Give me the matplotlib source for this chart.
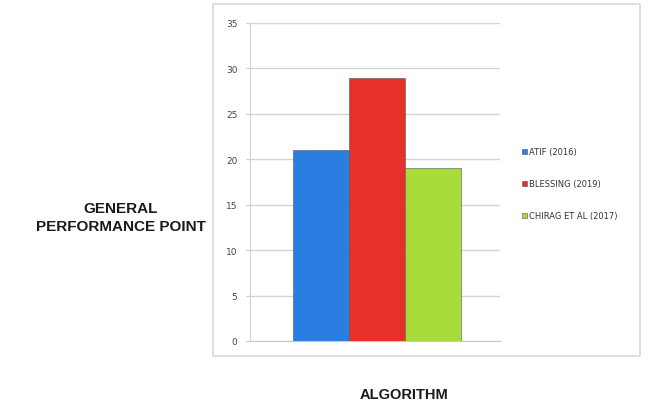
import matplotlib.pyplot as plt
from matplotlib.patches import Rectangle

# performance points per algorithm
algorithms = ['ATIF (2016)', 'BLESSING (2019)', 'CHIRAG ET AL (2017)']
points = [21, 29, 19]
colors = ['#2a7de1', '#e8302b', '#a8dc3a']
yticks = [0, 5, 10, 15, 20, 25, 30, 35]

fig = plt.figure(figsize=(6.52, 4.06), dpi=100)
fig.patch.set_facecolor('white')

# light frame around the chart area
fig.add_artist(Rectangle((213 / 652, 1 - 357 / 406), 427 / 652, 352 / 406,
                         transform=fig.transFigure, fill=False,
                         edgecolor='#d9d9d9', linewidth=1.2))

ax = fig.add_axes([250 / 652, 1 - 342 / 406, 250 / 652, 318 / 406])
w = 1.0
offsets = [-w, 0, w]
handles = []
for off, val, col, name in zip(offsets, points, colors, algorithms):
    b = ax.bar(off, val, width=w, color=col, edgecolor='#555555',
               linewidth=0.4, label=name, zorder=3)
    handles.append(b)

ax.set_xlim(-127 / 56, 123 / 56)
ax.set_ylim(0, 35)
ax.set_yticks(yticks)
ax.set_yticklabels([str(t) for t in yticks], fontsize=6.5, color='#444444')
ax.set_xticks([])
ax.yaxis.grid(True, color='#d4d4d4', linewidth=1.0, zorder=0)
ax.tick_params(axis='y', length=3, color='#cccccc', pad=6)
for s in ['top', 'right']:
    ax.spines[s].set_visible(False)
ax.spines['left'].set_color('#d4d4d4')
ax.spines['bottom'].set_color('#c8c8c8')

fig.legend(handles=handles, labels=algorithms, loc='upper left',
           bbox_to_anchor=(514 / 652, 1 - 141 / 406), frameon=False,
           fontsize=6, handlelength=0.6, handleheight=0.6,
           handletextpad=0.3, labelspacing=2.75, labelcolor='#333333')

fig.text(121 / 652, 1 - 218 / 406, 'GENERAL\nPERFORMANCE POINT',
         ha='center', va='center', fontsize=11, fontweight='bold',
         family='Liberation Sans', color='#1a1a1a', linespacing=1.45)
fig.text(404 / 652, 1 - 395 / 406, 'ALGORITHM', ha='center', va='center',
         fontsize=10.5, fontweight='bold', family='Liberation Sans',
         color='#1a1a1a')

fig.savefig('out.png', dpi=100)
